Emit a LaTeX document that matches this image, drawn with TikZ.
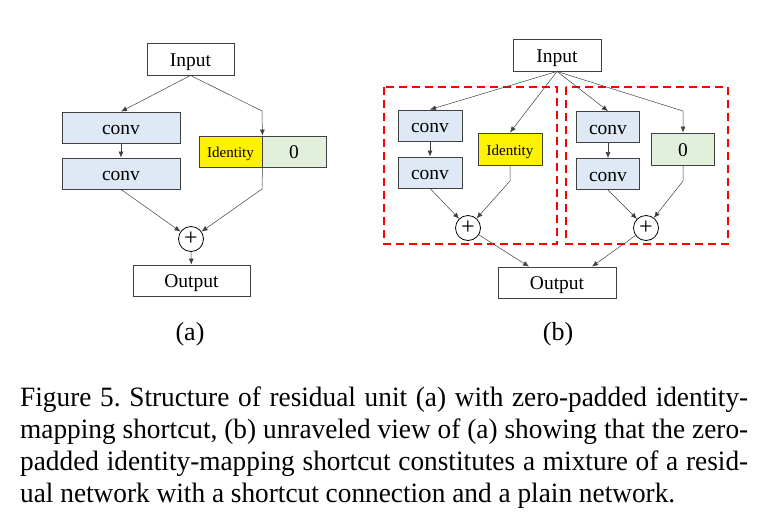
\documentclass[tikz,border=0pt]{standalone}
\usepackage{fontspec}
\setmainfont{Liberation Serif}
\newfontfamily\capfont[FakeStretch=0.975]{Liberation Serif}
\usetikzlibrary{arrows.meta}

\definecolor{convblue}{RGB}{222,233,245}
\definecolor{zerogreen}{RGB}{226,239,218}
\definecolor{boxline}{RGB}{64,64,64}

\tikzset{
  blk/.style={draw=boxline, line width=0.9pt, inner sep=0pt, minimum height=31pt,
    font=\fontsize{19.5}{22}\selectfont, text height=15pt, text depth=1pt},
  convblk/.style={blk, fill=convblue},
  idblk/.style={blk, fill=yellow, font=\fontsize{15}{18}\selectfont, text height=12pt, text depth=0pt},
  zeroblk/.style={blk, fill=zerogreen},
  plus/.style={circle, draw=black, line width=0.8pt, minimum size=25pt, inner sep=0pt,
    font=\fontsize{24}{24}\selectfont},
  conn/.style={-{Latex[length=6pt,width=5pt]}, draw=boxline, line width=0.5pt},
  redbox/.style={draw=red, line width=2pt, dash pattern=on 8pt off 5pt},
  sublabel/.style={font=\fontsize{26}{30}\selectfont}
}

\begin{document}
\begin{tikzpicture}[x=1pt,y=-1pt]
\useasboundingbox (0,0) rectangle (762,523);

% (a)
\node [blk, minimum width=87pt, minimum height=32pt] (ina) at (190.5,59) {Input};
\node [convblk, minimum width=118pt] (ca1) at (121,127.5) {conv};
\node [convblk, minimum width=118pt] (ca2) at (121,173.5) {conv};
\node [idblk, minimum width=63pt] (ida) at (230.5,151.5) {Identity};
\node [zeroblk, minimum width=64pt] (za) at (294,151.5) {0};
\node [plus] (pa) at (191,239) {+};
\node [blk, minimum width=117pt] (outa) at (191.5,280.5) {Output};

\coordinate (ka1) at (262,111);
\coordinate (ka2) at (262,189);

\draw [conn] (ina.south) -- (ca1.north);
\draw [conn] (ina.south) -- (ka1) -- (ida.north east);
\draw [conn] (ca1) -- (ca2);
\draw [conn] (ca2.south) -- (pa);
\draw [conn] (ida.south east) -- (ka2) -- (pa);
\draw [conn] (pa) -- (outa);

\node [sublabel] (la) at (190,334) {(a)};

% (b)
\draw [redbox] (384,87) rectangle (557,244);
\draw [redbox] (566,87) rectangle (728,244);

\node [blk, minimum width=88pt, minimum height=32pt] (inb) at (557,55) {Input};
\node [convblk, minimum width=64pt] (cb1) at (430,125.5) {conv};
\node [convblk, minimum width=64pt] (cb2) at (430,172.5) {conv};
\node [idblk, minimum width=64pt, minimum height=32pt] (idb) at (510,149) {Identity};
\node [convblk, minimum width=63pt] (cb3) at (608,127) {conv};
\node [convblk, minimum width=63pt] (cb4) at (608,174) {conv};
\node [zeroblk, minimum width=63pt, minimum height=32pt] (zb) at (683,149) {0};
\node [plus] (pb1) at (468,228) {+};
\node [plus] (pb2) at (646,228) {+};
\node [blk, minimum width=118pt] (outb) at (557,282.5) {Output};

\coordinate (kb1) at (683,111);
\coordinate (kb2) at (510,181);
\coordinate (kb3) at (683,181);

\draw [conn] (inb.south) -- (cb1.north);
\draw [conn] (inb.south) -- (idb.north);
\draw [conn] (inb.south) -- (cb3.north);
\draw [conn] (inb.south) -- (kb1) -- (zb.north);
\draw [conn] (cb1) -- (cb2);
\draw [conn] (cb3) -- (cb4);
\draw [conn] (cb2.south) -- (pb1);
\draw [conn] (idb.south) -- (kb2) -- (pb1);
\draw [conn] (cb4.south) -- (pb2);
\draw [conn] (zb.south) -- (kb3) -- (pb2);
\draw [conn] (pb1) -- ([xshift=-28pt]outb.north);
\draw [conn] (pb2) -- ([xshift=35pt]outb.north);

\node [sublabel] (lb) at (558,334) {(b)};

% caption
\begin{scope}[every node/.style={anchor=base west, inner sep=0pt, font=\capfont\fontsize{28}{32}\selectfont\frenchspacing}]
\node (cap1) at (20,406.5) {\hbox to 728pt{Figure 5. Structure of residual unit (a) with zero-padded identity-}};
\node (cap2) at (20,438.5) {\hbox to 728pt{mapping shortcut, (b) unraveled view of (a) showing that the zero-}};
\node (cap3) at (20,470.5) {\hbox to 728pt{padded identity-mapping shortcut constitutes a mixture of a resid-}};
\node (cap4) at (20,502.5) {ual network with a shortcut connection and a plain network.};
\end{scope}
\end{tikzpicture}
\end{document}
